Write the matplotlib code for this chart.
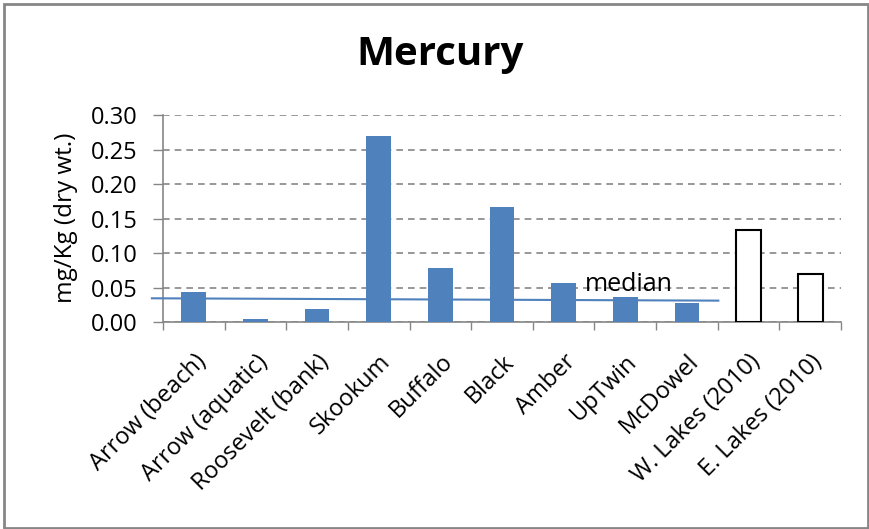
import matplotlib.pyplot as plt
from matplotlib.patches import Rectangle
import numpy as np

plt.rcParams['font.family'] = ['Open Sans', 'DejaVu Sans']

sites = ["Arrow (beach)", "Arrow (aquatic)", "Roosevelt (bank)", "Skookum",
         "Buffalo", "Black", "Amber", "UpTwin", "McDowel",
         "W. Lakes (2010)", "E. Lakes (2010)"]
mercury = [0.044, 0.004, 0.019, 0.270, 0.079, 0.167, 0.056, 0.036, 0.028,
           0.133, 0.069]
is_2010 = [False] * 9 + [True, True]

# hand-drawn median line (slightly tilted in the original sheet)
median_x = [-0.68, 8.51]
median_y = [0.0344, 0.0310]

blue = "#4F81BD"
grey = "#868686"

fig = plt.figure(figsize=(8.7, 5.29), dpi=100)
ax = fig.add_axes([163 / 870, 1 - 322 / 529, 678 / 870, 206.7 / 529])

x = np.arange(len(sites))
for xi, val, old in zip(x, mercury, is_2010):
    if old:
        ax.bar(xi, val, width=0.4, facecolor="white", edgecolor="black",
               linewidth=1.5, zorder=3)
    else:
        ax.bar(xi, val, width=0.4, color=blue, zorder=3)

ax.plot(median_x, median_y, color=blue, linewidth=1.5, zorder=4,
        clip_on=False)
ax.text(7.05, 0.0545, "median", ha="center", va="center", fontsize=18,
        zorder=5)

ax.set_xlim(-0.5, len(sites) - 0.5)
ax.set_ylim(0, 0.30)
ax.set_yticks(np.arange(0, 0.31, 0.05))
ax.set_yticklabels([f"{v:.2f}" for v in np.arange(0, 0.31, 0.05)],
                   fontsize=17)
ax.yaxis.grid(True, linestyle=(0, (4, 3)), color=grey, linewidth=1.2)
ax.set_axisbelow(True)

# category ticks sit between the bars
ax.set_xticks(np.arange(-0.5, len(sites), 1.0))
ax.set_xticklabels([])
ax.set_xticks(x, minor=True)
ax.set_xticklabels(sites, minor=True, rotation=45, ha="right",
                   rotation_mode="anchor", fontsize=17)
ax.tick_params(axis="x", which="major", direction="out", length=6,
               color=grey, width=1)
ax.tick_params(axis="x", which="minor", length=0, pad=20)
ax.tick_params(axis="y", length=7, color=grey, width=1, pad=11)

for side in ["top", "right"]:
    ax.spines[side].set_visible(False)
for side in ["left", "bottom"]:
    ax.spines[side].set_color(grey)
    ax.spines[side].set_linewidth(1.2)

ax.set_ylabel("mg/Kg (dry wt.)", fontsize=17.5)
ax.yaxis.set_label_coords(-0.125, 0.503)
fig.text(440 / 870, 1 - 54 / 529, "Mercury", ha="center", va="center",
         fontsize=29, fontweight="bold")

fig.patches.append(Rectangle((4.5 / 870, 1.5 / 529), 864 / 870, 524 / 529,
                             transform=fig.transFigure, fill=False,
                             edgecolor=grey, linewidth=2))

fig.savefig("out.png", dpi=100)
